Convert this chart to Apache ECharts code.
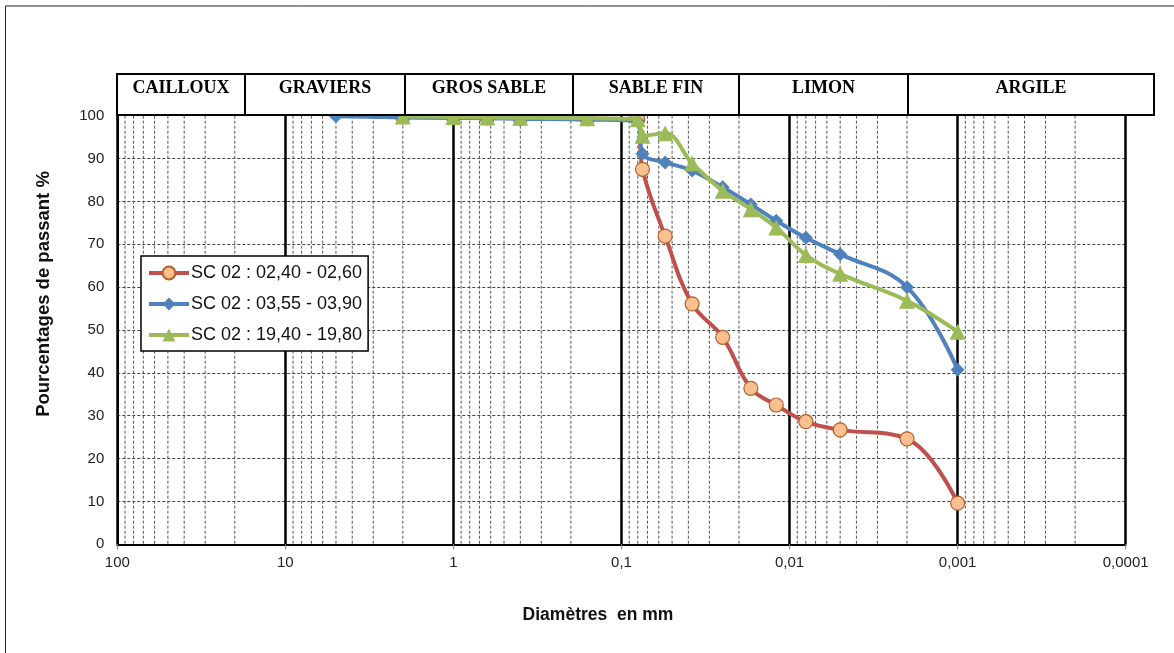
<!DOCTYPE html>
<html>
<head>
<meta charset="utf-8">
<title>Courbes granulométriques</title>
<script src="https://cdn.jsdelivr.net/npm/echarts@6/dist/echarts.min.js"></script>
<style>
  html, body { margin: 0; padding: 0; background: #fff; }
  #chart { width: 1174px; height: 653px; }
</style>
</head>
<body>
<div id="chart"></div>
<script>
// diametres des tamis puis de la sedimentometrie (mm)
const sieveMm = [5, 2, 1, 0.63, 0.4, 0.16, 0.08];
const sedimMm = [0.075, 0.055, 0.038, 0.025, 0.017, 0.012, 0.008, 0.005, 0.002, 0.001];

// passants % (null = pas de mesure)
const passRed   = [null, 99.7, 99.6, 99.5, 99.4, 99.3, 99.1, 87.5, 71.9, 56.1, 48.3, 36.4, 32.5, 28.6, 26.7, 24.6, 9.6];
const passBlue  = [99.9, 99.6, 99.5, 99.4, 99.3, 99.1, 98.7, 91.1, 89.1, 87.2, 83.3, 79.3, 75.5, 71.5, 67.7, 60.0, 40.7];
const passGreen = [null, 99.8, 99.7, 99.6, 99.5, 99.4, 99.2, 95.3, 95.9, 88.9, 82.5, 78.2, 73.9, 67.5, 63.1, 56.8, 49.6];

const seriesNames = ['SC 02 : 02,40 - 02,60', 'SC 02 : 03,55 - 03,90', 'SC 02 : 19,40 - 19,80'];

// bandeau des classes de sol
const classNames = ['CAILLOUX', 'GRAVIERS', 'GROS SABLE', 'SABLE FIN', 'LIMON', 'ARGILE'];
const classEdges = [117, 245, 405, 573, 739, 908, 1154];

// quadrillage secondaire (2..9 x chaque decade)
const decades = [0.0001, 0.001, 0.01, 0.1, 1, 10];
const multipliers = [2, 3, 4, 5, 6, 7, 8, 9];

const allMm = sieveMm.concat(sedimMm);
function toPairs(pass) {
  const out = [];
  pass.forEach(function (p, i) { if (p != null) out.push([allMm[i], p]); });
  return out;
}

const minorData = [];
decades.forEach(function (d) {
  multipliers.forEach(function (m) { minorData.push([+(d * m).toPrecision(3), 0]); });
});

function fmtMm(v) {
  if (v >= 1) return String(Math.round(v));
  const dec = Math.round(-Math.log10(v));
  return v.toFixed(dec).replace('.', ',');
}

const headerGraphics = [];
classNames.forEach(function (name, i) {
  const x0 = classEdges[i], x1 = classEdges[i + 1];
  headerGraphics.push({
    type: 'rect',
    z: 100,
    shape: { x: x0, y: 74, width: x1 - x0, height: 41 },
    style: { fill: '#fff', stroke: '#000', lineWidth: 2 }
  });
  headerGraphics.push({
    type: 'text',
    z: 101,
    x: (x0 + x1) / 2,
    y: 88,
    style: {
      text: name,
      fill: '#000',
      font: 'bold 18px "Liberation Serif"',
      align: 'center',
      verticalAlign: 'middle'
    }
  });
});

const chart = echarts.init(document.getElementById('chart'));

const option = {
  animation: false,
  grid: { left: 117.3, right: 48.3, top: 115.7, bottom: 108.7 },
  legend: {
    data: seriesNames,
    orient: 'vertical',
    left: 141,
    top: 256,
    itemWidth: 40,
    itemHeight: 16,
    itemGap: 13,
    padding: [8, 6, 7, 6],
    backgroundColor: '#fff',
    borderColor: '#000',
    borderWidth: 1.5,
    lineStyle: { width: 4 },
    textStyle: { fontSize: 18, fontFamily: 'Liberation Sans', color: '#111', padding: [0, 0, 0, -3] }
  },
  xAxis: {
    type: 'log',
    logBase: 10,
    min: 0.0001,
    max: 100,
    interval: 1,
    inverse: true,
    axisLine: { show: true, onZero: false, lineStyle: { color: '#000', width: 2 } },
    axisTick: { show: true, length: 5, lineStyle: { color: '#888' } },
    axisLabel: {
      formatter: fmtMm,
      fontSize: 15,
      fontFamily: 'Liberation Sans',
      color: '#222',
      margin: 11
    },
    splitLine: { show: true, lineStyle: { color: '#000', width: 2.5 } }
  },
  yAxis: {
    type: 'value',
    min: 0,
    max: 100,
    interval: 10,
    axisLine: { show: true, lineStyle: { color: '#000', width: 2 } },
    axisTick: { show: false },
    axisLabel: { fontSize: 15, fontFamily: 'Liberation Sans', color: '#222', margin: 13 },
    splitLine: { show: true, lineStyle: { color: '#444', width: 1, type: [3, 2] } }
  },
  graphic: [
    {
      type: 'rect',
      z: 0,
      silent: true,
      shape: { x: 5.5, y: 6, width: 1400, height: 1000 },
      style: { fill: null, stroke: '#222', lineWidth: 1 }
    },
    {
      type: 'text',
      z: 100,
      x: 598,
      y: 615,
      style: {
        text: 'Diamètres  en mm',
        fill: '#111',
        font: 'bold 17.5px "Liberation Sans"',
        align: 'center',
        verticalAlign: 'middle'
      }
    },
    {
      type: 'text',
      z: 100,
      x: 44,
      y: 294,
      rotation: Math.PI / 2,
      style: {
        text: 'Pourcentages de passant %',
        fill: '#111',
        font: 'bold 18.5px "Liberation Sans"',
        align: 'center',
        verticalAlign: 'middle'
      }
    }
  ].concat(headerGraphics),
  series: [
    {
      type: 'custom',
      name: 'minor',
      silent: true,
      z: 1,
      data: minorData,
      renderItem: function (params, api) {
        const top = api.coord([api.value(0), 100]);
        const bot = api.coord([api.value(0), 0]);
        return {
          type: 'line',
          shape: { x1: top[0], y1: top[1], x2: bot[0], y2: bot[1] },
          style: { stroke: '#555', lineWidth: 1, lineDash: [3, 2] }
        };
      }
    },
    {
      name: seriesNames[0],
      type: 'line',
      smooth: 0.4,
      z: 3,
      data: toPairs(passRed),
      symbol: 'circle',
      symbolSize: 14,
      lineStyle: { color: '#C0504D', width: 4 },
      itemStyle: { color: '#FAC090', borderColor: '#B3602A', borderWidth: 1.2 }
    },
    {
      name: seriesNames[1],
      type: 'line',
      smooth: 0.4,
      z: 4,
      data: toPairs(passBlue),
      symbol: 'diamond',
      symbolSize: 14,
      lineStyle: { color: '#4F81BD', width: 4 },
      itemStyle: { color: '#4F81BD' }
    },
    {
      name: seriesNames[2],
      type: 'line',
      smooth: 0.4,
      z: 5,
      data: toPairs(passGreen),
      symbol: 'triangle',
      symbolSize: 16,
      lineStyle: { color: '#9BBB59', width: 4 },
      itemStyle: { color: '#9BBB59' }
    }
  ]
};

chart.setOption(option);
</script>
</body>
</html>
